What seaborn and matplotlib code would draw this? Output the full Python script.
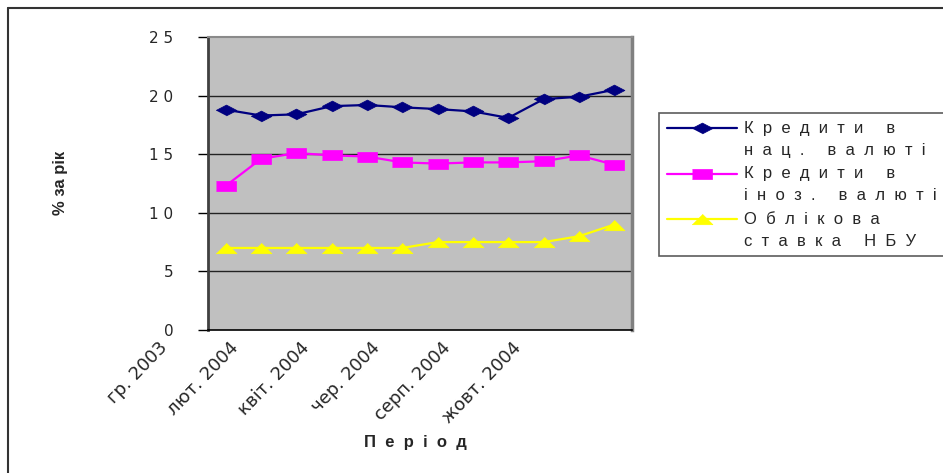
"""Credit rates vs NBU discount rate, Dec 2003 - Nov 2004."""

import matplotlib
matplotlib.use("Agg")
import numpy as np
import pandas as pd
import matplotlib.pyplot as plt
import seaborn as sns
from matplotlib.legend_handler import HandlerLine2D
from matplotlib.lines import Line2D
from matplotlib.transforms import ScaledTranslation

MONTHS = ["гр. 2003", "січ. 2004", "лют. 2004", "бер. 2004", "квіт. 2004", "трав. 2004",
          "чер. 2004", "лип. 2004", "серп. 2004", "вер. 2004", "жовт. 2004", "лист. 2004"]
NATIONAL = [18.8, 18.3, 18.4, 19.1, 19.2, 19.0, 18.85, 18.65, 18.1, 19.7, 19.9, 20.5]
FOREIGN = [12.3, 14.6, 15.1, 14.9, 14.8, 14.3, 14.2, 14.3, 14.3, 14.4, 14.9, 14.1]
NBU_RATE = [7.0, 7.0, 7.0, 7.0, 7.0, 7.0, 7.5, 7.5, 7.5, 7.5, 8.0, 9.0]
SERIES_NAMES = ["Кредити в\nнац. валюті", "Кредити в\nіноз. валюті", "Облікова\nставка НБУ"]
Y_TICKS = [0, 5, 10, 15, 20, 25]

COLORS = ["#000080", "#FF00FF", "#FFFF00"]
MARKERS = [
    [(-1, 0), (0, 0.52), (1, 0), (0, -0.52)],
    [(-1, -0.52), (1, -0.52), (1, 0.52), (-1, 0.52)],
    [(-1, -0.5), (1, -0.5), (0, 0.5)],
]


def spaced(text, gap=" "):
    # the source chart uses wide letter spacing
    return "\n".join(gap.join(line) for line in text.split("\n"))


class FirstLineHandler(HandlerLine2D):
    """Put the legend key next to the first line of a two-line label."""

    def create_artists(self, *args, **kwargs):
        artists = super().create_artists(*args, **kwargs)
        for art in artists:
            art.set_ydata(np.asarray(art.get_ydata()) + 8)
        return artists


sns.set_style("white")
plt.rcParams["font.family"] = ["Liberation Sans", "DejaVu Sans"]
TICK_FONT = ["DejaVu Sans"]

df = pd.DataFrame({"idx": range(len(MONTHS)), "month": MONTHS})
values = [NATIONAL, FOREIGN, NBU_RATE]

W, H = 943, 473
fig = plt.figure(figsize=(W / 100, H / 100), dpi=100)
ax = fig.add_axes([208 / W, 1 - 330 / H, 424 / W, 293 / H])
ax.set_facecolor("#C0C0C0")

for name, vals, color, marker in zip(SERIES_NAMES, values, COLORS, MARKERS):
    sns.lineplot(x=df["idx"], y=vals, ax=ax, color=color, lw=1.6, marker=marker,
                 markersize=15, markeredgecolor=color, markeredgewidth=0.5,
                 label=spaced(name, "  "))

ax.set_xlim(-0.5, len(MONTHS) - 0.5)
ax.set_ylim(0, 25)
ax.set_yticks(Y_TICKS)
ax.set_yticklabels([spaced(str(v)) for v in Y_TICKS], fontsize=11, family=TICK_FONT)
for v in Y_TICKS[1:-1]:
    ax.axhline(v, color="#222222", lw=1, zorder=1)

ax.set_xticks(df["idx"][::2])
ax.set_xticklabels(df["month"][::2], rotation=46, ha="right", rotation_mode="anchor",
                   fontsize=13, family=TICK_FONT)
ax.set_xticks([i - 0.5 for i in range(len(MONTHS) + 1)], minor=True)
ax.tick_params(axis="x", which="major", length=0, pad=6)
ax.tick_params(axis="x", which="minor", length=4.5, width=1, color="black", direction="out")
ax.tick_params(axis="y", length=7, width=1, color="black", direction="out", pad=18, left=True)
shift = ScaledTranslation(-67 / 100, 0, fig.dpi_scale_trans)
for lab in ax.get_xticklabels():
    lab.set_transform(lab.get_transform() + shift)

ax.spines["bottom"].set_color("black")
ax.spines["bottom"].set_linewidth(1.2)
ax.spines["left"].set_color("#404040")
ax.spines["left"].set_linewidth(2)
ax.spines["top"].set_color("#8a8a8a")
ax.spines["top"].set_linewidth(1.5)
ax.spines["right"].set_color("#808080")
ax.spines["right"].set_linewidth(2.5)

ax.set_xlabel(spaced("Період", "  "), fontsize=12, fontweight="bold")
ax.xaxis.set_label_coords((415 - 208) / 424, (330 - 435) / 293)
ax.set_ylabel("% за рік", fontsize=12, fontweight="bold")
ax.yaxis.set_label_coords((68 - 208) / 424, (330 - 183) / 293)

handles, labels = ax.get_legend_handles_labels()
leg = ax.legend(handles, labels, loc="upper left", bbox_to_anchor=(659 / W, 1 - 113 / H),
                bbox_transform=fig.transFigure, borderaxespad=0, fontsize=12,
                handlelength=4.2, handletextpad=0.45, borderpad=0.45, labelspacing=0.5,
                fancybox=False, frameon=True, edgecolor="#333333",
                handler_map={h: FirstLineHandler() for h in handles})
leg.get_frame().set_linewidth(1.2)
for t in leg.get_texts():
    t.set_linespacing(1.6)

# outer chart frame (cropped at right and bottom)
fig.add_artist(Line2D([8 / W, 8 / W], [0, 1 - 8 / H], color="#333333", lw=1.5))
fig.add_artist(Line2D([8 / W, 1], [1 - 8 / H, 1 - 8 / H], color="#333333", lw=1.5))

fig.savefig("out.png", dpi=100)
